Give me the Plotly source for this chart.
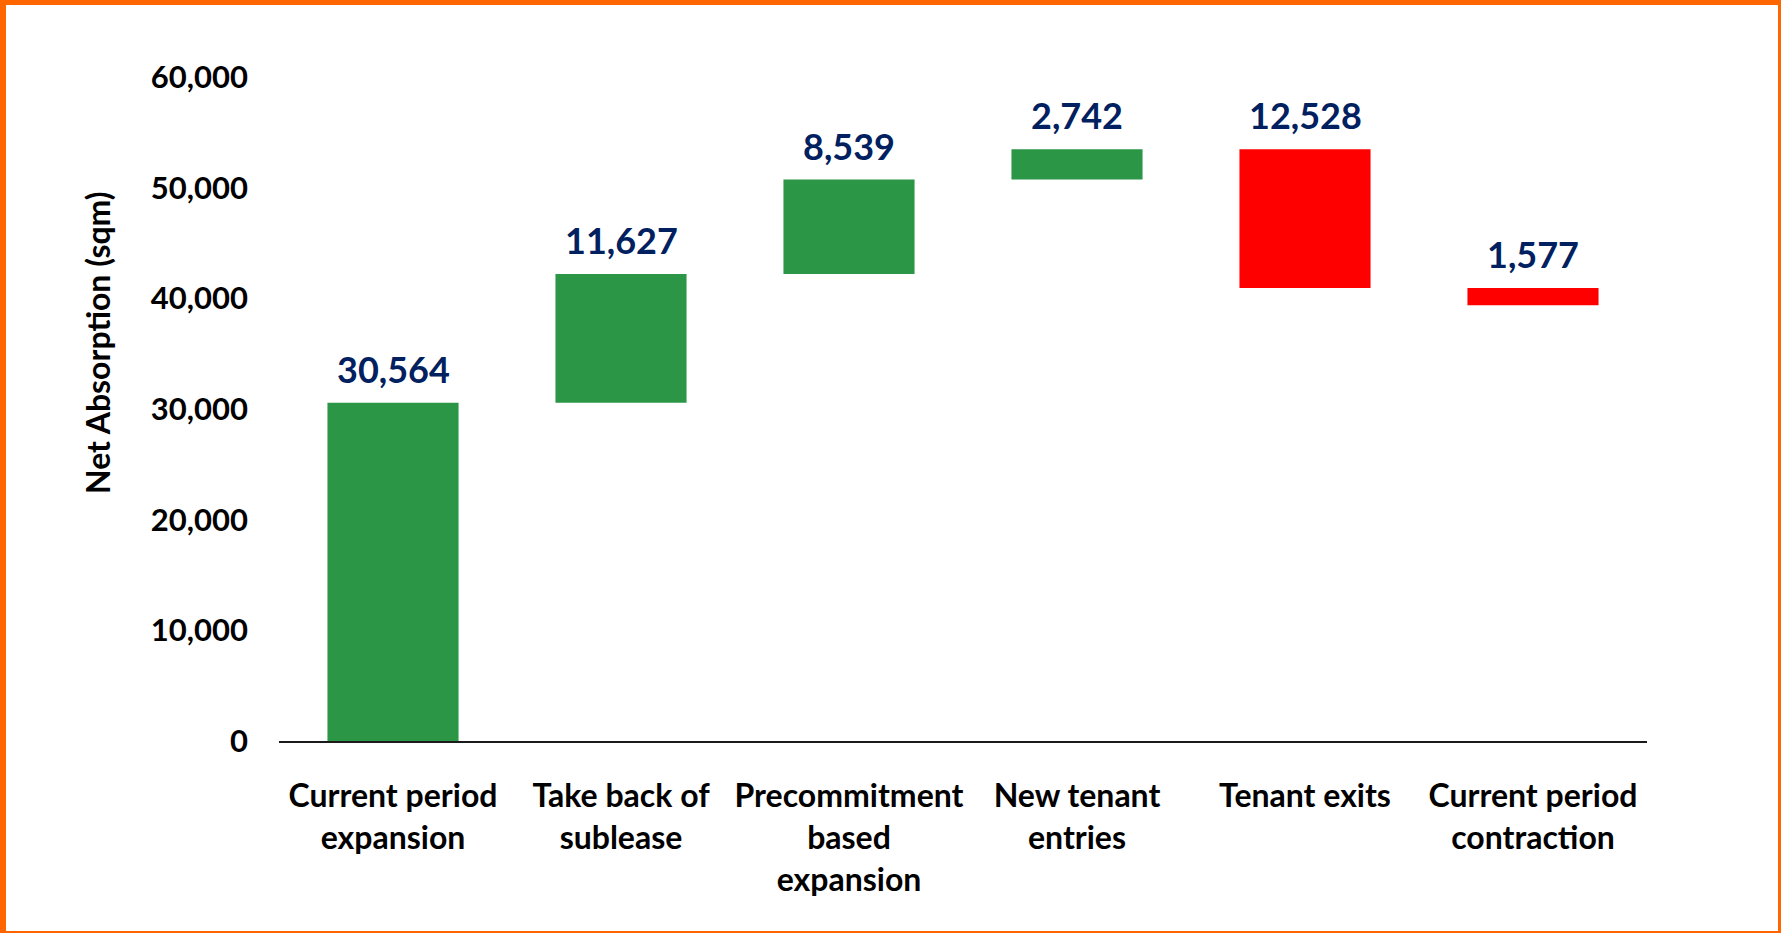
import plotly.graph_objects as go

# data
categories = ["Current period<br>expansion", "Take back of<br>sublease", "Precommitment<br>based<br>expansion",
              "New tenant<br>entries", "Tenant exits", "Current period<br>contraction"]
changes = [30564, 11627, 8539, 2742, -12528, -1577]

GREEN = "#2A9646"
RED = "#FF0000"
NAVY = "#002060"
ORANGE = "#FF6600"
FONT = "Lato"

W, H = 1781, 933
L, R, T, B = 279, 134, 77, 192
pw, ph = W - L - R, H - T - B

def px(x):
    return (x - L) / pw

def py(y):
    return (H - B - y) / ph

# waterfall: floating bars from running total
bases, heights, tops, colors = [], [], [], []
total = 0
for v in changes:
    start, end = total, total + v
    bases.append(min(start, end))
    heights.append(abs(v))
    tops.append(max(start, end))
    colors.append(GREEN if v >= 0 else RED)
    total = end

fig = go.Figure()
fig.add_trace(go.Bar(x=categories, y=heights, base=bases, marker=dict(color=colors, line=dict(width=0)),
                     hoverinfo="skip", showlegend=False))

for c, t, v in zip(categories, tops, changes):
    fig.add_annotation(x=c, y=t, text="<b>{:,}</b>".format(abs(v)), showarrow=False,
                       yanchor="bottom", yshift=10, font=dict(family=FONT, size=36, color=NAVY))

# y axis title
fig.add_annotation(xref="paper", yref="paper", x=px(97), y=py(343), text="<b>Net Absorption (sqm)</b>",
                   textangle=-90, showarrow=False, xanchor="center", yanchor="middle",
                   font=dict(family=FONT, size=32, color="black"))

# orange frame
for x0, y0, x1, y1 in [(0, 0, W, 5), (0, 0, 6, H), (W - 3, 0, W, H), (0, H - 2, W, H)]:
    fig.add_shape(type="rect", xref="paper", yref="paper", x0=px(x0), x1=px(x1), y0=py(y0), y1=py(y1),
                  fillcolor=ORANGE, line=dict(width=0), layer="above")

fig.update_layout(
    width=W, height=H,
    margin=dict(l=L, r=R, t=T, b=B),
    plot_bgcolor="white", paper_bgcolor="white",
    bargap=0.425,
    font=dict(family=FONT, color="black"),
    xaxis=dict(showline=True, linecolor="#1a1a1a", linewidth=2, ticks="", showgrid=False,
               tickfont=dict(family=FONT, size=32, color="black"), ticklabelstandoff=26),
    yaxis=dict(range=[0, 60000], dtick=10000, tickformat=",", showgrid=False, zeroline=False,
               showline=False, ticks="", tickfont=dict(family=FONT, size=31, color="black"),
               ticklabelstandoff=30),
)
fig.update_xaxes(tickprefix="<b>", ticksuffix="</b>")
fig.update_yaxes(tickprefix="<b>", ticksuffix="</b>")

fig.write_html("out.html", config={"displayModeBar": False},
               post_script="document.body.style.margin='0';")
